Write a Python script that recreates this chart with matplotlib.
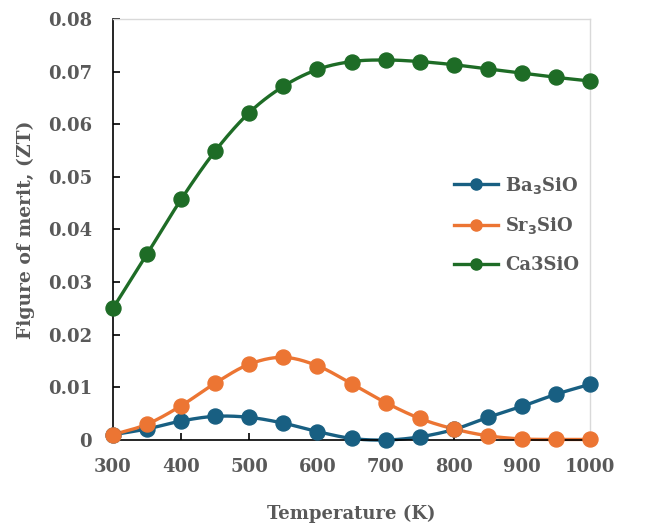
import numpy as np
import matplotlib
matplotlib.use("Agg")
import matplotlib.pyplot as plt

temperature = [300, 350, 400, 450, 500, 550, 600, 650, 700, 750, 800, 850, 900, 950, 1000]
zt_ba3sio = [0.0010, 0.0021, 0.0036, 0.0045, 0.0043, 0.0032, 0.0016, 0.0003, 0.0000,
             0.0006, 0.0020, 0.0043, 0.0064, 0.0087, 0.0106]
zt_sr3sio = [0.0010, 0.0030, 0.0065, 0.0108, 0.0144, 0.0157, 0.0141, 0.0107, 0.0071,
             0.0041, 0.0021, 0.0008, 0.0002, 0.0001, 0.0001]
zt_ca3sio = [0.0250, 0.0353, 0.0457, 0.0549, 0.0622, 0.0672, 0.0704, 0.0719, 0.0722,
             0.0719, 0.0713, 0.0705, 0.0697, 0.0689, 0.0682]

series_labels = ["Ba$_3$SiO", "Sr$_3$SiO", "Ca3SiO"]
series_colors = ["#185F82", "#EC7533", "#1E6C26"]


def smooth(x, y, n=20):
    """Catmull-Rom curve through the points, like a spreadsheet 'smoothed line'."""
    x = np.asarray(x, float)
    y = np.asarray(y, float)
    px = np.concatenate([[2 * x[0] - x[1]], x, [2 * x[-1] - x[-2]]])
    py = np.concatenate([[2 * y[0] - y[1]], y, [2 * y[-1] - y[-2]]])
    xs, ys = [], []
    t = np.linspace(0, 1, n, endpoint=False)
    for i in range(1, len(px) - 2):
        for arr, out in ((px, xs), (py, ys)):
            p0, p1, p2, p3 = arr[i - 1], arr[i], arr[i + 1], arr[i + 2]
            out.extend(0.5 * ((2 * p1) + (-p0 + p2) * t
                              + (2 * p0 - 5 * p1 + 4 * p2 - p3) * t ** 2
                              + (-p0 + 3 * p1 - 3 * p2 + p3) * t ** 3))
    xs.append(x[-1])
    ys.append(y[-1])
    return np.array(xs), np.array(ys)


plt.rcParams["font.family"] = "DejaVu Serif"
plt.rcParams["font.weight"] = "bold"
text_color = "#595959"

fig = plt.figure(figsize=(6.64, 5.26), dpi=100)
ax = fig.add_axes([0.170, 0.1635, 0.719, 0.8005])

for vals, lab, col in zip([zt_ba3sio, zt_sr3sio, zt_ca3sio], series_labels, series_colors):
    sx, sy = smooth(temperature, vals)
    ax.plot(sx, sy, color=col, lw=2.4, zorder=2, solid_capstyle="round", clip_on=False)
    ax.plot(temperature, vals, "o", color=col, ms=10.8, zorder=3, clip_on=False)
    ax.plot([], [], "-o", color=col, lw=2.4, ms=8, label=lab)

ax.set_xlim(300, 1000)
ax.set_ylim(0, 0.08)
ax.set_xticks(np.arange(300, 1001, 100))
ax.set_yticks(np.arange(0, 0.0801, 0.01))
ax.set_yticklabels(["0"] + [f"{v:.2f}" for v in np.arange(0.01, 0.0801, 0.01)])

for s in ("left", "bottom"):
    ax.spines[s].set_color("black")
    ax.spines[s].set_linewidth(1.2)
for s in ("top", "right"):
    ax.spines[s].set_color("#D9D9D9")
    ax.spines[s].set_linewidth(1.0)

ax.tick_params(direction="in", length=5, width=1.2, colors="black",
               labelcolor=text_color, labelsize=13)
ax.tick_params(axis="x", pad=13)
ax.tick_params(axis="y", pad=15)
for lbl in ax.get_xticklabels() + ax.get_yticklabels():
    lbl.set_fontweight("bold")

ax.set_xlabel("Temperature (K)", fontsize=13, fontweight="bold", color=text_color, labelpad=21)
ax.set_ylabel("Figure of merit, (ZT)", fontsize=13.5, fontweight="bold", color=text_color, labelpad=9)

leg = ax.legend(loc="upper left", bbox_to_anchor=(0.681, 0.669), frameon=False,
                fontsize=13, labelspacing=1.1, handlelength=2.4, handletextpad=0.4)
for t in leg.get_texts():
    t.set_color(text_color)
    t.set_fontweight("bold")

fig.savefig("out.png", dpi=100)
